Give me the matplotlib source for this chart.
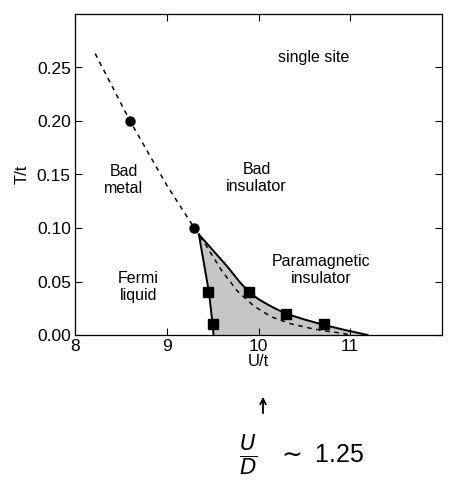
import numpy as np
import matplotlib.pyplot as plt

plt.rcParams['font.family'] = ['Liberation Sans', 'DejaVu Sans']

# crossover (dashed) line
cross_u = [8.22, 8.6, 9.0, 9.3, 9.35, 9.42, 9.48, 9.6, 9.77, 9.95, 10.14, 10.35, 10.57, 10.75, 10.92, 11.0]
cross_t = [0.263, 0.200, 0.140, 0.100, 0.093, 0.085, 0.0765, 0.060, 0.041, 0.027, 0.017, 0.0105, 0.0062, 0.0035, 0.0015, 0.0]

# coexistence region boundaries
left_u = [9.35, 9.46, 9.50, 9.51]
left_t = [0.094, 0.040, 0.010, 0.0]
right_u = [9.35, 9.50, 9.66, 9.80, 9.90, 10.00, 10.10, 10.20, 10.30, 10.50, 10.71, 10.95, 11.19]
right_t = [0.094, 0.0795, 0.064, 0.049, 0.040, 0.0335, 0.0285, 0.024, 0.020, 0.0145, 0.0095, 0.0045, 0.0]

# markers
circ_u = [8.6, 9.3]
circ_t = [0.20, 0.10]
sq_u = [9.45, 9.50, 9.90, 10.30, 10.71]
sq_t = [0.04, 0.01, 0.04, 0.02, 0.01]

fig = plt.figure(figsize=(4.5, 4.98), dpi=100)
ax = fig.add_axes([75/450, 1-335/498, 367/450, 321/498])

# shaded region
poly_u = right_u + left_u[::-1]
poly_t = right_t + left_t[::-1]
ax.fill(poly_u, poly_t, color='#c6c6c6', zorder=1)
ax.plot(right_u, right_t, 'k-', lw=1.4, zorder=2)
ax.plot(left_u, left_t, 'k-', lw=1.4, zorder=2)
ax.plot(cross_u, cross_t, 'k--', lw=1.1, dashes=(3, 3), zorder=2)

ax.plot(circ_u, circ_t, 'ko', ms=6.5, zorder=3)
ax.plot(sq_u, sq_t, 'ks', ms=6.5, zorder=3)

ax.set_xlim(8, 12)
ax.set_ylim(0, 0.30)
ax.set_xticks([8, 9, 10, 11])
ax.set_yticks([0, 0.05, 0.10, 0.15, 0.20, 0.25])
ax.set_yticklabels(['0.00', '0.05', '0.10', '0.15', '0.20', '0.25'])
ax.tick_params(direction='in', top=True, right=True, labelsize=12.5, length=5, pad=3)
ax.set_xlabel('U/t', fontsize=12, labelpad=0)
ax.set_ylabel('T/t', fontsize=12, labelpad=5)
for s in ax.spines.values():
    s.set_linewidth(0.9)

lab = dict(fontsize=11.5, ha='center', va='center', linespacing=1.15)
ax.text(10.6, 0.259, 'single site', **lab)
ax.text(8.53, 0.145, 'Bad\nmetal', **lab)
ax.text(9.98, 0.147, 'Bad\ninsulator', **lab)
ax.text(8.69, 0.045, 'Fermi\nliquid', **lab)
ax.text(10.68, 0.061, 'Paramagnetic\ninsulator', **lab)

# handwritten note below the chart
fig.patches.append(plt.matplotlib.patches.FancyArrowPatch(
    (263/450, 1-416/498), (263/450, 1-394/498), transform=fig.transFigure,
    arrowstyle='->', mutation_scale=10, lw=1.3, color='k'))
fig.text(248/450, 1-455/498, r'$\frac{U}{D}$', fontsize=22, ha='center', va='center')
fig.text(277/450, 1-455/498, r'$\sim$ 1.25', fontsize=18, ha='left', va='center')

fig.savefig('out.png', dpi=100)
